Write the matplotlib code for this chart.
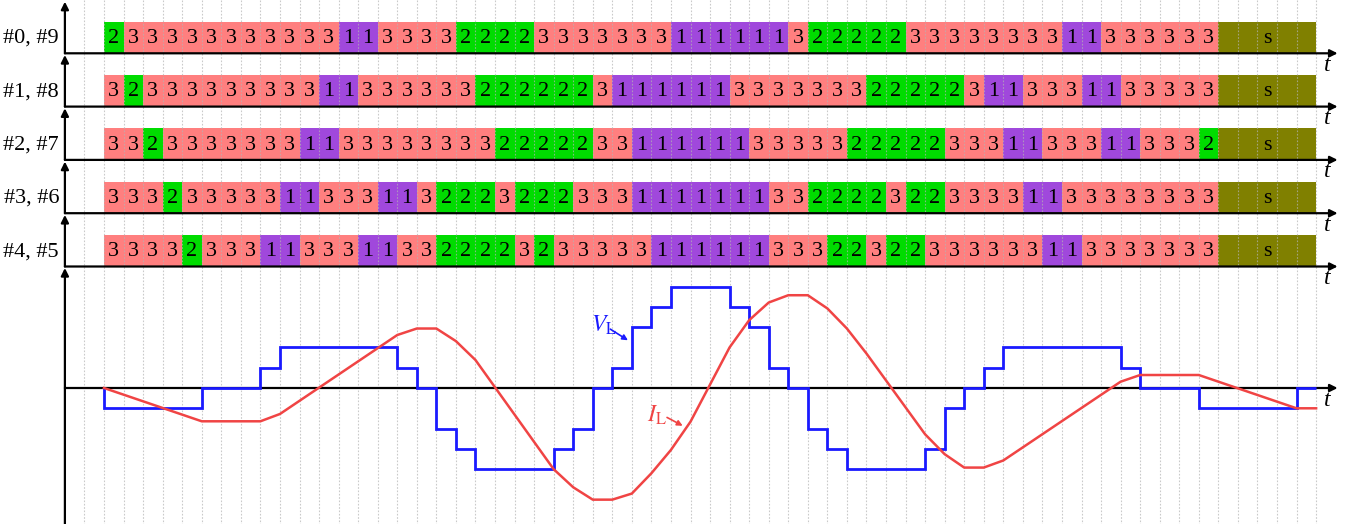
import matplotlib.pyplot as plt
import numpy as np

plt.rcParams['font.family'] = ['Liberation Serif', 'DejaVu Serif']
plt.rcParams['mathtext.fontset'] = 'stix'

# %%
# 各单元的开关状态 (游程编码: 状态, 个数)
row_labels = ['#0, #9', '#1, #8', '#2, #7', '#3, #6', '#4, #5']
row0_runs = [('2', 1), ('3', 11), ('1', 2), ('3', 4), ('2', 4), ('3', 7), ('1', 6), ('3', 1),
             ('2', 5), ('3', 8), ('1', 2), ('3', 6), ('s', 5)]
row1_runs = [('3', 1), ('2', 1), ('3', 9), ('1', 2), ('3', 6), ('2', 6), ('3', 1), ('1', 6),
             ('3', 7), ('2', 5), ('3', 1), ('1', 2), ('3', 3), ('1', 2), ('3', 5), ('s', 5)]
row2_runs = [('3', 2), ('2', 1), ('3', 7), ('1', 2), ('3', 8), ('2', 5), ('3', 2), ('1', 6),
             ('3', 5), ('2', 5), ('3', 3), ('1', 2), ('3', 3), ('1', 2), ('3', 3), ('2', 1), ('s', 5)]
row3_runs = [('3', 3), ('2', 1), ('3', 5), ('1', 2), ('3', 3), ('1', 2), ('3', 1), ('2', 3),
             ('3', 1), ('2', 3), ('3', 3), ('1', 7), ('3', 2), ('2', 4), ('3', 1), ('2', 2),
             ('3', 4), ('1', 2), ('3', 8), ('s', 5)]
row4_runs = [('3', 4), ('2', 1), ('3', 3), ('1', 2), ('3', 3), ('1', 2), ('3', 2), ('2', 4),
             ('3', 1), ('2', 1), ('3', 5), ('1', 6), ('3', 3), ('2', 2), ('3', 1), ('2', 2),
             ('3', 6), ('1', 2), ('3', 7), ('s', 5)]
all_runs = [row0_runs, row1_runs, row2_runs, row3_runs, row4_runs]

# 输出电压 V_L (每个单元一个电平)
vl_levels = [-1, -1, -1, -1, -1, 0, 0, 0, 1, 2, 2, 2, 2, 2, 2, 1, 0, -2, -3, -4, -4, -4, -4,
             -3, -2, 0, 1, 3, 4, 5, 5, 5, 4, 3, 1, 0, -2, -3, -4, -4, -4, -4, -3, -1, 0, 1,
             2, 2, 2, 2, 2, 2, 1, 0, 0, 0, -1, -1, -1, -1, -1, 0]

# 电流 I_L 折线顶点 (单元边界, 数值)
il_t = [0, 5, 8, 9, 15, 16, 17, 18, 19, 23, 24, 25, 26, 27, 28, 29, 30, 32, 33, 34, 35, 36,
        37, 38, 39, 42, 43, 44, 45, 46, 52, 53, 56, 61, 62]
il_v = [0, -1.64, -1.64, -1.28, 2.61, 2.93, 2.93, 2.31, 1.38, -4.0, -4.89, -5.5, -5.5, -5.2,
        -4.2, -3.05, -1.66, 2.0, 3.34, 4.21, 4.57, 4.57, 3.92, 2.93, 1.7, -2.28, -3.26, -3.92,
        -3.92, -3.57, 0.31, 0.64, 0.64, -1.0, -1.0]

colors = {'1': '#a048dc', '2': '#00dc00', '3': '#ff7f7f', 's': '#808000'}

# %%
W, H = 1351, 524
X0, CW = 104, 19.55        # 第0格左边像素, 格宽
ROW_H, CELL_H = 53.3, 31.7
ZERO_Y, UNIT = 388, 20.3
xlim = (-X0 / CW, (W - X0) / CW)

fig = plt.figure(figsize=(W / 100, H / 100), dpi=100)
ax = fig.add_axes([0, 0, 1, 1])
ax.set_xlim(xlim)
ax.set_ylim(H, 0)
ax.axis('off')

n_cells = len(vl_levels)
# 网格虚线
for k in range(-1, n_cells + 1):
    ax.plot([k, k], [0, H], color='#b4b4b4', lw=0.8, ls=(0, (1.5, 1.5)), zorder=3, alpha=0.7)

arrow = dict(arrowstyle='-|>', color='k', lw=1.6, mutation_scale=11, shrinkA=0, shrinkB=0)

for r, runs in enumerate(all_runs):
    base = ROW_H * (r + 1)
    top = base - CELL_H
    pos = 0
    for state, cnt in runs:
        ax.bar(np.arange(pos, pos + cnt), CELL_H, width=1, bottom=top, align='edge',
               color=colors[state], lw=0, zorder=2)
        if state == 's':
            ax.text(pos + cnt / 2, top + CELL_H / 2 + 1, 's', ha='center', va='center',
                    fontsize=16, zorder=4)
        else:
            for c in range(pos, pos + cnt):
                ax.text(c + 0.5, top + CELL_H / 2 + 1, state, ha='center', va='center',
                        fontsize=16, zorder=4)
        pos += cnt
    ax.text(-2.3, top + CELL_H / 2 + 1, row_labels[r], ha='right', va='center', fontsize=16)
    # 时间轴
    ax.annotate('', xy=(63.1, base), xytext=(-2, base), arrowprops=arrow, zorder=5)
    ax.text(62.4, base + 12, 't', style='italic', fontsize=17, ha='left', va='center')
    # 纵轴
    ax.annotate('', xy=(-2, base - 51.6), xytext=(-2, base), arrowprops=arrow, zorder=5)

ax.annotate('', xy=(-2, 268), xytext=(-2, H), arrowprops=arrow, zorder=5)

# %%
# 下方波形
axw = fig.add_axes([0, 0, 1, (H - 270) / H])
axw.patch.set_alpha(0)
axw.set_xlim(xlim)
axw.set_ylim(-(H - ZERO_Y) / UNIT, (ZERO_Y - 270) / UNIT)
axw.axis('off')

axw.annotate('', xy=(63.1, 0), xytext=(-2, 0), arrowprops=arrow, zorder=1)
axw.text(62.4, -0.62, 't', style='italic', fontsize=17, ha='left', va='center')

axw.stairs(vl_levels, np.arange(n_cells + 1), color='#1a1aff', lw=2, baseline=0,
           fill=False, zorder=3)
axw.plot(il_t, il_v, color='#f04444', lw=1.8, zorder=4)

axw.text(25.6, 3.1, r'$V_{\rm L}$', color='#1a1aff', fontsize=17, ha='center', va='center')
axw.annotate('', xy=(26.8, 2.35), xytext=(25.9, 2.9),
             arrowprops=dict(arrowstyle='-|>', color='#1a1aff', lw=1.2, mutation_scale=8,
                             shrinkA=0, shrinkB=0))
axw.text(28.3, -1.35, r'$I_{\rm L}$', color='#f04444', fontsize=17, ha='center', va='center')
axw.annotate('', xy=(29.6, -1.86), xytext=(28.8, -1.45),
             arrowprops=dict(arrowstyle='-|>', color='#f04444', lw=1.2, mutation_scale=8,
                             shrinkA=0, shrinkB=0))

plt.savefig('out.png', dpi=100)
